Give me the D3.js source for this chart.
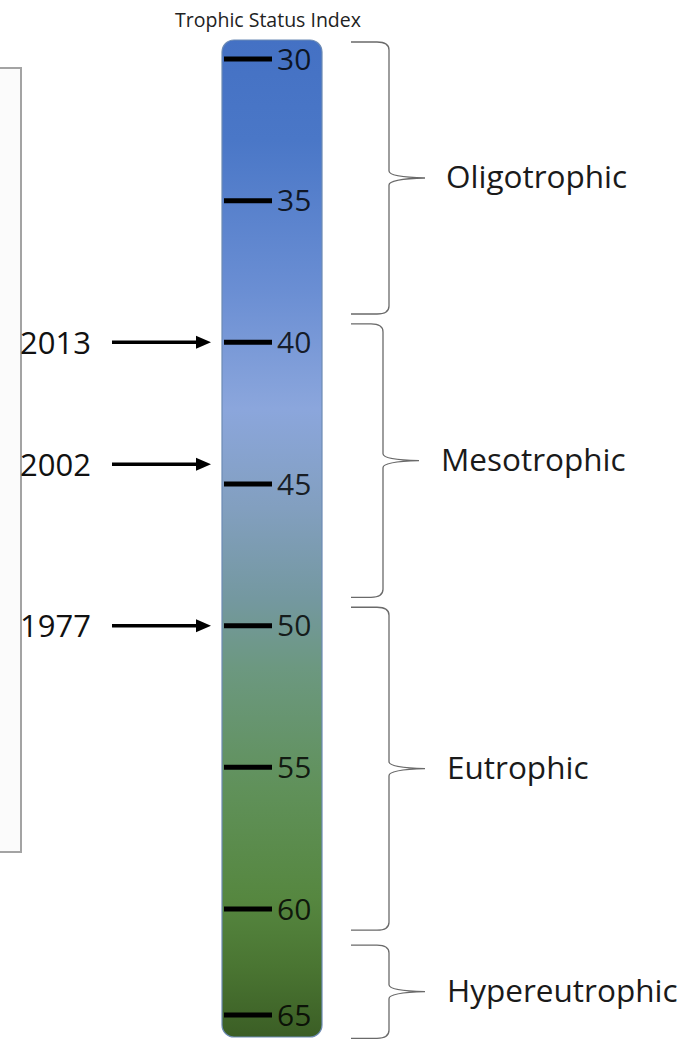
<!DOCTYPE html>
<html>
<head>
<meta charset="utf-8">
<script src="https://cdn.jsdelivr.net/npm/d3@7"></script>
<style>
  html, body { margin: 0; padding: 0; background: #fff; }
  svg { display: block; }
  text { font-family: "Open Sans", "Noto Sans", sans-serif; }
</style>
</head>
<body>
<svg id="chart" width="689" height="1041"></svg>
<script>
// ---- data ----
const title = "Trophic Status Index";
const tickValues = [30, 35, 40, 45, 50, 55, 60, 65];
const tickLabels = ["30", "35", "40", "45", "50", "55", "60", "65"];
const years = ["2013", "2002", "1977"];
const yearTSI = [40.0, 44.3, 50.0];
const classes = ["Oligotrophic", "Mesotrophic", "Eutrophic", "Hypereutrophic"];
const classLow = [29.4, 39.35, 49.35, 61.7];
const classHigh = [39.0, 49.0, 61.0, 66.1];

// ---- layout ----
const svg = d3.select("#chart");
const y = d3.scaleLinear().domain([30, 60, 65]).range([59, 909, 1015]);

const bar = { x: 222, w: 100, top: 40, bottom: 1037, r: 12 };

// left faint panel
svg.append("rect")
  .attr("x", -4).attr("y", 68).attr("width", 25).attr("height", 784)
  .attr("fill", "#fbfbfb").attr("stroke", "#a3a3a3").attr("stroke-width", 2);

// title
svg.append("text")
  .attr("x", 268).attr("y", 27)
  .attr("text-anchor", "middle")
  .attr("font-size", 19.5).attr("fill", "#222")
  .text(title);

// gradient
const defs = svg.append("defs");
const grad = defs.append("linearGradient")
  .attr("id", "tsiGrad").attr("x1", 0).attr("y1", 0).attr("x2", 0).attr("y2", 1);
[
  [0.00, "#4471c4"],
  [0.10, "#4a77c7"],
  [0.25, "#6a8ed3"],
  [0.37, "#8ba6dc"],
  [0.47, "#829fbf"],
  [0.56, "#7498a0"],
  [0.63, "#6c9880"],
  [0.75, "#60915a"],
  [0.86, "#568740"],
  [0.93, "#4a7532"],
  [1.00, "#3b5e25"]
].forEach(([o, c]) => grad.append("stop").attr("offset", o).attr("stop-color", c));

svg.append("rect")
  .attr("x", bar.x).attr("y", bar.top)
  .attr("width", bar.w).attr("height", bar.bottom - bar.top)
  .attr("rx", bar.r).attr("ry", bar.r)
  .attr("fill", "url(#tsiGrad)")
  .attr("stroke", "#6d8bb5").attr("stroke-width", 1.2);

// ticks
const tickG = svg.append("g");
tickValues.forEach((v, i) => {
  tickG.append("line")
    .attr("x1", 224).attr("x2", 272)
    .attr("y1", y(v)).attr("y2", y(v))
    .attr("stroke", "#000").attr("stroke-width", 5);
  tickG.append("text")
    .attr("x", 277).attr("y", y(v) + 10.5)
    .attr("font-size", 30)
    .attr("fill", "#000").attr("fill-opacity", 0.82)
    .text(tickLabels[i]);
});

// year arrows
years.forEach((yr, i) => {
  const yy = y(yearTSI[i]);
  svg.append("text")
    .attr("x", 20).attr("y", yy + 11.5)
    .attr("font-size", 31).attr("fill", "#111")
    .text(yr);
  svg.append("line")
    .attr("x1", 112).attr("x2", 199)
    .attr("y1", yy).attr("y2", yy)
    .attr("stroke", "#000").attr("stroke-width", 3.5);
  svg.append("path")
    .attr("d", `M196,${yy - 6.5} L211,${yy} L196,${yy + 6.5} Z`)
    .attr("fill", "#000");
});

// braces
const braceX = [
  { x0: 351, xv: 389, tip: 425 },
  { x0: 351, xv: 383, tip: 419 },
  { x0: 351, xv: 389, tip: 425 },
  { x0: 351, xv: 389, tip: 425 }
];
const labelX = [446, 441, 447, 447];

function bracePath(x0, xv, tip, y0, y1) {
  const ym = (y0 + y1) / 2;
  const r = 8;
  return [
    `M${x0},${y0}`,
    `L${xv - r - 4},${y0}`,
    `Q${xv},${y0} ${xv},${y0 + r}`,
    `L${xv},${ym - 7}`,
    `Q${xv},${ym - 1} ${tip},${ym}`,
    `Q${xv},${ym + 1} ${xv},${ym + 7}`,
    `L${xv},${y1 - r}`,
    `Q${xv},${y1} ${xv - r - 4},${y1}`,
    `L${x0},${y1}`
  ].join(" ");
}

classes.forEach((name, i) => {
  const y0 = y(classLow[i]);
  const y1 = y(classHigh[i]);
  const b = braceX[i];
  svg.append("path")
    .attr("d", bracePath(b.x0, b.xv, b.tip, y0, y1))
    .attr("fill", "none")
    .attr("stroke", "#6a6a6a").attr("stroke-width", 1.3);
  svg.append("text")
    .attr("x", labelX[i]).attr("y", (y0 + y1) / 2 + 10)
    .attr("font-size", 31.5).attr("fill", "#1a1a1a")
    .text(name);
});
</script>
</body>
</html>
